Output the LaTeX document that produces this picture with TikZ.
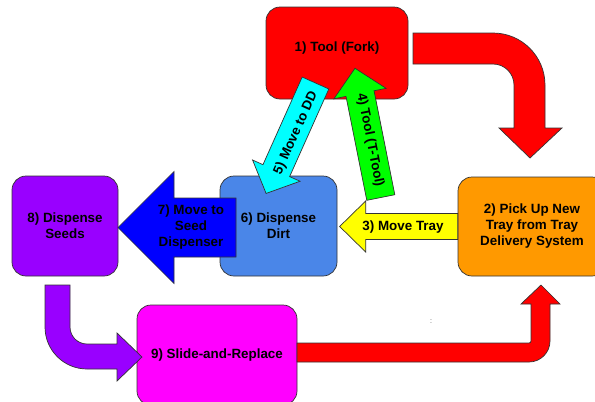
\documentclass[tikz,border=0pt]{standalone}
\usepackage{fontspec}
\setmainfont{Liberation Sans}

\definecolor{forkred}{HTML}{FF0000}
\definecolor{pickorange}{HTML}{FF9900}
\definecolor{dirtblue}{HTML}{4A86E8}
\definecolor{seedpurple}{HTML}{9900FF}
\definecolor{slidemagenta}{HTML}{FF00FF}
\definecolor{ddcyan}{HTML}{00FFFF}
\definecolor{tgreen}{HTML}{00FF00}
\definecolor{trayyellow}{HTML}{FFFF00}
\definecolor{seedblue}{HTML}{0000FF}

% straight fat arrow: style, length, shaft half width, head length, head half width
\newcommand{\blockarrow}[5]{%
  \draw[#1] (0,-#3) -- ({#2-#4},-#3) -- ({#2-#4},-#5) -- (#2,0)
    -- ({#2-#4},#5) -- ({#2-#4},#3) -- (0,#3) -- cycle;}

\tikzset{
  stage/.style={draw=black!80, line width=0.7pt, rounded corners=14pt, inner sep=0pt,
    font=\bfseries\fontsize{13.4}{16}\selectfont, align=center},
  fat/.style={draw=black!80, line width=0.7pt},
  lbl/.style={font=\bfseries\fontsize{13.4}{16}\selectfont, align=center, inner sep=0pt}
}

\begin{document}
\begin{tikzpicture}[x=1pt,y=-1pt]
  \useasboundingbox (0,0) rectangle (595,402);

  \node[stage, fill=forkred, minimum width=142pt, minimum height=92pt,
        text height=10pt, text depth=14pt] (fork) at (337,53) {1) Tool (Fork)};

  % 1 -> 2
  \draw[fat, fill=forkred] (413,33) -- (493,33) arc (-90:0:52) -- (545,128) -- (562,128)
    -- (530,158) -- (499,128) -- (514,128) -- (514,85) arc (0:-90:21) -- (413,64) -- cycle;

  \node[stage, fill=pickorange, minimum width=148pt, minimum height=99pt] (pickup)
    at (532,226.5) {2) Pick Up New\\Tray from Tray\\Delivery System};
  \node[stage, fill=dirtblue, minimum width=117pt, minimum height=100pt] (dirt)
    at (278.5,226) {6) Dispense\\Dirt};

  % 3
  \blockarrow{fat, fill=trayyellow, shift={(pickup.west)}, rotate=180}{118}{13}{26}{25.5}
  \node[lbl] (movetray) at (403,227) {3) Move Tray};

  % 5
  \blockarrow{fat, fill=ddcyan, shift={(315.5,83)}, rotate=245.9}{121}{14.6}{25}{26}
  \node[lbl, rotate=65.9] (movedd) at (296,133) {5) Move to DD};

  % 4
  \blockarrow{fat, fill=tgreen, shift={(380.8,197.5)}, rotate=101.3}{131.8}{14.3}{25.8}{26.6}
  \node[lbl, rotate=-78.7] (tooltt) at (370,140) {4) Tool (T-Tool)};

  \node[stage, fill=seedpurple, minimum width=106pt, minimum height=100pt] (seeds)
    at (65,226) {8) Dispense\\Seeds};

  % 7
  \blockarrow{fat, fill=seedblue, shift={(236,227.5)}, rotate=180}{118}{29.5}{56}{56}
  \node[lbl] (moveseed) at (191,227.5) {7) Move to\\Seed\\Dispenser};

  \node[stage, fill=slidemagenta, minimum width=160pt, minimum height=100pt] (slide)
    at (217,355) {9) Slide-and-Replace};

  % 8 -> 9
  \draw[fat, fill=seedpurple] (45,285) -- (45,327) arc (180:90:42) -- (117,369) -- (117,381)
    -- (142,357) -- (117,333) -- (117,344) -- (87,344) arc (90:180:17) -- (70,285) -- cycle;

  % 9 -> 2
  \draw[fat, fill=forkred] (297,343) -- (297,362) -- (529,362) arc (90:0:21) -- (550,304)
    -- (560,304) -- (541,285) -- (521,304) -- (531,304) -- (531,341) arc (0:90:2) -- cycle;

  \node[font=\fontsize{7}{8}\selectfont, text=black!70, inner sep=0pt] (dots) at (431,322) {:};
\end{tikzpicture}
\end{document}
